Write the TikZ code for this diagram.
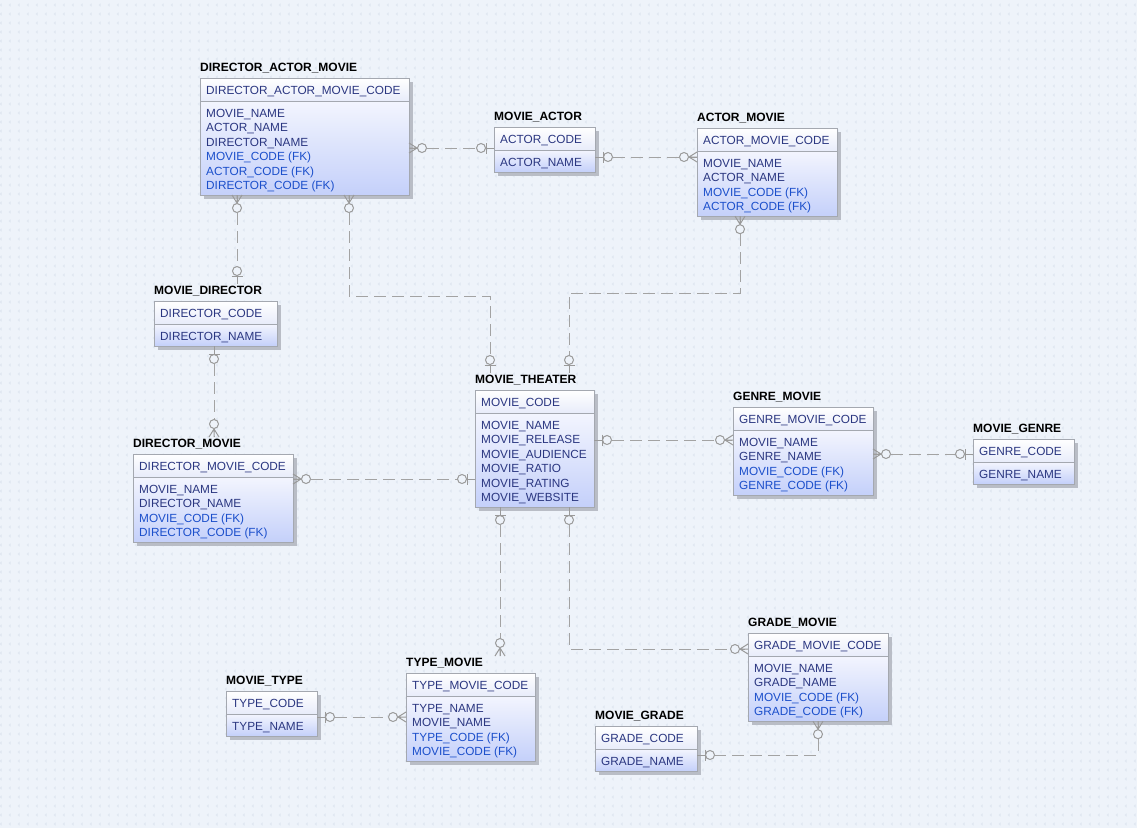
\documentclass[tikz,border=0pt]{standalone}
\usepackage{fontspec}
\setmainfont{Liberation Sans}
\usetikzlibrary{calc,patterns.meta}

\definecolor{bgc}{HTML}{EEF3FA}
\definecolor{dotc}{HTML}{D6DEEB}
\definecolor{shc}{HTML}{B9BDC6}
\definecolor{edgec}{HTML}{A4A8B0}
\definecolor{hdtop}{HTML}{FFFFFF}
\definecolor{hdbot}{HTML}{E8ECFA}
\definecolor{bdtop}{HTML}{F3F5FE}
\definecolor{bdbot}{HTML}{C4D0FA}
\definecolor{rowc}{HTML}{2A3680}
\definecolor{fkc}{HTML}{1B4FCB}
\definecolor{linec}{HTML}{A3A3A3}
\definecolor{symc}{HTML}{9A9A9A}

% faint dotted canvas texture
\tikzdeclarepattern{
  name=canvasdots, type=uncolored,
  bottom left={(0pt,0pt)}, top right={(9pt,9pt)}, tile size={(9pt,9pt)},
  code={
    \pgfpathrectangle{\pgfpoint{1pt}{5pt}}{\pgfpoint{1pt}{1pt}}
    \pgfpathrectangle{\pgfpoint{2pt}{6pt}}{\pgfpoint{1pt}{1pt}}
    \pgfpathrectangle{\pgfpoint{2pt}{4pt}}{\pgfpoint{1pt}{1pt}}
    \pgfusepath{fill}
  }
}

\tikzset{
  ebox/.style={draw=edgec, line width=0.9pt, inner sep=0pt, outer sep=0pt},
  etitle/.style={anchor=west, inner sep=0pt, font=\fontsize{12}{13}\selectfont\bfseries},
  ehead/.style={anchor=west, inner sep=0pt, text=rowc, font=\fontsize{11.8}{13}\selectfont},
  erow/.style={anchor=west, inner sep=0pt, font=\fontsize{11.8}{13}\selectfont},
  conn/.style={draw=linec, line width=1pt, dash pattern=on 12pt off 6pt},
  csym/.style={draw=symc, line width=1pt},
  zmany/.pic={
    \draw[csym] (0,0) -- (9,0) (0,-5) -- (8,0) -- (0,5);
    \draw[csym, fill=bgc] (13,0) circle[radius=4.5];
  },
  zone/.pic={
    \draw[csym] (0,0) -- (9,0) (8,-5.5) -- (8,5.5);
    \draw[csym, fill=bgc] (13,0) circle[radius=4.5];
  },
}

% entity table: name, left, top, width, number of rows, title, key column, rows (text/colour)
\newcommand\erent[8]{%
  \pgfmathsetmacro\entH{23+12+(#5-1)*14.4+10}%
  \fill[shc] (#2+4,#3+4) rectangle ++(#4,\entH);
  \shade[top color=hdtop, bottom color=hdbot] (#2,#3) rectangle ++(#4,23);
  \shade[top color=bdtop, bottom color=bdbot] (#2,#3+23) rectangle ++(#4,\entH-23);
  \node[ebox, minimum width=#4pt, minimum height=\entH pt, anchor=north west] (#1) at (#2,#3) {};
  \draw[edgec, line width=0.9pt] (#2,#3+23) -- ++(#4,0);
  \node[etitle] (#1-t) at (#2,#3-9.5) {#6};
  \node[ehead] (#1-h) at (#2+6,#3+13.5) {#7};
  \foreach \txt/\col [count=\i] in {#8}
    \node[erow, text=\col] (#1-\i) at (#2+6,#3+36.5+\i*14.4-14.4) {\txt};
}

\begin{document}
\begin{tikzpicture}[x=1pt, y=-1pt]
\useasboundingbox (0,0) rectangle (1137,828);
\fill[bgc] (0,0) rectangle (1137,828);
\fill[pattern=canvasdots, pattern color=dotc] (0,0) rectangle (1137,828);

% tables
\erent{dam}{200}{78}{209}{6}{DIRECTOR\_ACTOR\_MOVIE}{DIRECTOR\_ACTOR\_MOVIE\_CODE}%
  {MOVIE\_NAME/rowc,ACTOR\_NAME/rowc,DIRECTOR\_NAME/rowc,MOVIE\_CODE (FK)/fkc,ACTOR\_CODE (FK)/fkc,DIRECTOR\_CODE (FK)/fkc}
\erent{ma}{494}{127}{101}{1}{MOVIE\_ACTOR}{ACTOR\_CODE}{ACTOR\_NAME/rowc}
\erent{am}{697}{128}{140}{4}{ACTOR\_MOVIE}{ACTOR\_MOVIE\_CODE}%
  {MOVIE\_NAME/rowc,ACTOR\_NAME/rowc,MOVIE\_CODE (FK)/fkc,ACTOR\_CODE (FK)/fkc}
\erent{md}{154}{301}{123}{1}{MOVIE\_DIRECTOR}{DIRECTOR\_CODE}{DIRECTOR\_NAME/rowc}
\erent{dm}{133}{454}{160}{4}{DIRECTOR\_MOVIE}{DIRECTOR\_MOVIE\_CODE}%
  {MOVIE\_NAME/rowc,DIRECTOR\_NAME/rowc,MOVIE\_CODE (FK)/fkc,DIRECTOR\_CODE (FK)/fkc}
\erent{mt}{475}{390}{119}{6}{MOVIE\_THEATER}{MOVIE\_CODE}%
  {MOVIE\_NAME/rowc,MOVIE\_RELEASE/rowc,MOVIE\_AUDIENCE/rowc,MOVIE\_RATIO/rowc,MOVIE\_RATING/rowc,MOVIE\_WEBSITE/rowc}
\erent{gm}{733}{407}{140}{4}{GENRE\_MOVIE}{GENRE\_MOVIE\_CODE}%
  {MOVIE\_NAME/rowc,GENRE\_NAME/rowc,MOVIE\_CODE (FK)/fkc,GENRE\_CODE (FK)/fkc}
\erent{mg}{973}{439}{101}{1}{MOVIE\_GENRE}{GENRE\_CODE}{GENRE\_NAME/rowc}
\erent{mty}{226}{691}{91}{1}{MOVIE\_TYPE}{TYPE\_CODE}{TYPE\_NAME/rowc}
\erent{tm}{406}{673}{129}{4}{TYPE\_MOVIE}{TYPE\_MOVIE\_CODE}%
  {TYPE\_NAME/rowc,MOVIE\_NAME/rowc,TYPE\_CODE (FK)/fkc,MOVIE\_CODE (FK)/fkc}
\erent{grm}{748}{633}{140}{4}{GRADE\_MOVIE}{GRADE\_MOVIE\_CODE}%
  {MOVIE\_NAME/rowc,GRADE\_NAME/rowc,MOVIE\_CODE (FK)/fkc,GRADE\_CODE (FK)/fkc}
\erent{mgr}{595}{726}{102}{1}{MOVIE\_GRADE}{GRADE\_CODE}{GRADE\_NAME/rowc}

% relationships
\draw[conn] (dam.east |- 0,148) -- (ma.west |- 0,148);
\pic at (dam.east |- 0,148) {zmany};
\pic[rotate=180] at (ma.west |- 0,148) {zone};

\draw[conn] (ma.east |- 0,157) -- (am.west |- 0,157);
\pic at (ma.east |- 0,157) {zone};
\pic[rotate=180] at (am.west |- 0,157) {zmany};

\draw[conn] (237,0 |- dam.south) -- ($(md.north -| 237,0)+(0,-17)$);
\pic[rotate=-90] at (237,0 |- dam.south) {zmany};
\pic[rotate=90] at ($(md.north -| 237,0)+(0,-17)$) {zone};

\draw[conn] (349,0 |- dam.south) |- (490,296) -- ($(mt.north -| 490,0)+(0,-17)$);
\pic[rotate=-90] at (349,0 |- dam.south) {zmany};
\pic[rotate=90] at ($(mt.north -| 490,0)+(0,-17)$) {zone};

\draw[conn] (740,0 |- am.south) |- (569,293) -- ($(mt.north -| 569,0)+(0,-17)$);
\pic[rotate=-90] at (740,0 |- am.south) {zmany};
\pic[rotate=90] at ($(mt.north -| 569,0)+(0,-17)$) {zone};

\draw[conn] (214,0 |- md.south) -- ($(dm.north -| 214,0)+(0,-17)$);
\pic[rotate=-90] at (214,0 |- md.south) {zone};
\pic[rotate=90] at ($(dm.north -| 214,0)+(0,-17)$) {zmany};

\draw[conn] (dm.east |- 0,479) -- (mt.west |- 0,479);
\pic at (dm.east |- 0,479) {zmany};
\pic[rotate=180] at (mt.west |- 0,479) {zone};

\draw[conn] (mt.east |- 0,440) -- (gm.west |- 0,440);
\pic at (mt.east |- 0,440) {zone};
\pic[rotate=180] at (gm.west |- 0,440) {zmany};

\draw[conn] (gm.east |- 0,454) -- (mg.west |- 0,454);
\pic at (gm.east |- 0,454) {zmany};
\pic[rotate=180] at (mg.west |- 0,454) {zone};

\draw[conn] (500,0 |- mt.south) -- ($(tm.north -| 500,0)+(0,-17)$);
\pic[rotate=-90] at (500,0 |- mt.south) {zone};
\pic[rotate=90] at ($(tm.north -| 500,0)+(0,-17)$) {zmany};

\draw[conn] (569,0 |- mt.south) |- (grm.west |- 0,649);
\pic[rotate=-90] at (569,0 |- mt.south) {zone};
\pic[rotate=180] at (grm.west |- 0,649) {zmany};

\draw[conn] (818,0 |- grm.south) |- (mgr.east |- 0,755);
\pic[rotate=-90] at (818,0 |- grm.south) {zmany};
\pic at (mgr.east |- 0,755) {zone};

\draw[conn] (mty.east |- 0,717) -- (tm.west |- 0,717);
\pic at (mty.east |- 0,717) {zone};
\pic[rotate=180] at (tm.west |- 0,717) {zmany};
\end{tikzpicture}
\end{document}
